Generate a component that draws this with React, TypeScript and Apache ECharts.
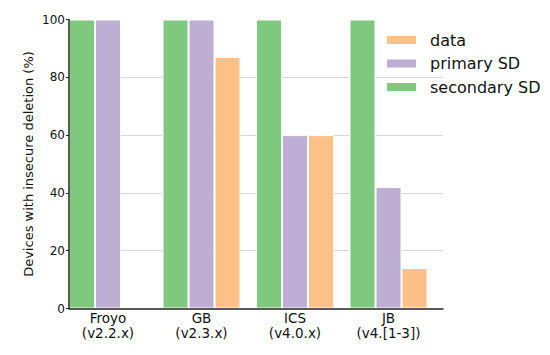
import React, { useEffect, useRef } from "react";
import * as echarts from "echarts";

const categories = ["Froyo\n(v2.2.x)", "GB\n(v2.3.x)", "ICS\n(v4.0.x)", "JB\n(v4.[1-3])"];
const secondarySD = [100, 100, 100, 100];
const primarySD = [100, 100, 60, 42];
const dataValues = [0, 87, 60, 14];
const yTicks = { min: 0, max: 100, interval: 20 };

const FONT = "DejaVu Sans";
const TEXT = "#111";

export default function App() {
  const ref = useRef<HTMLDivElement>(null);
  useEffect(() => {
    if (!ref.current) return;
    const chart = echarts.init(ref.current, null, { renderer: "svg" });
    const gridTop = 19.5;
    const gridHeight = 289;
    const gridWidth = 374;
    const barW = 26;
    const itemStyle = (color: string) => ({ color, borderColor: "#ffffff", borderWidth: 1 });
    chart.setOption({
      animation: false,
      textStyle: { fontFamily: FONT, color: TEXT },
      grid: [
        { left: 69, top: gridTop, width: gridWidth, height: gridHeight },
        { left: 69 - (gridWidth / 4 - barW * 3) / 2, top: gridTop, width: gridWidth, height: gridHeight },
      ],
      legend: {
        data: ["data", "primary SD", "secondary SD"],
        orient: "vertical",
        left: 385,
        top: 32,
        padding: 0,
        itemWidth: 31,
        itemHeight: 10,
        itemGap: 7.5,
        icon: "rect",
        textStyle: { fontFamily: FONT, fontSize: 16, color: TEXT, lineHeight: 16, padding: [0, 0, 0, 8] },
      },
      xAxis: [
        {
          type: "category",
          gridIndex: 0,
          data: categories,
          axisLine: { show: true, lineStyle: { color: "#222", width: 1.5 } },
          axisTick: { show: false },
          axisLabel: { show: false },
          splitLine: { show: false },
          z: 5,
        },
        {
          type: "category",
          gridIndex: 1,
          data: categories,
          axisLine: { show: false },
          axisTick: { show: false },
          axisLabel: { fontFamily: FONT, fontSize: 13.5, color: TEXT, lineHeight: 15, margin: 2 },
        },
      ],
      yAxis: [
        {
          type: "value",
          gridIndex: 0,
          position: "left",
          min: yTicks.min,
          max: yTicks.max,
          interval: yTicks.interval,
          axisLine: { show: false },
          axisTick: { show: false },
          axisLabel: { show: false },
          splitLine: { show: true, showMinLine: false, showMaxLine: false, lineStyle: { color: "#d6d6d6", width: 1.2 } },
          z: 0,
        },
        {
          type: "value",
          gridIndex: 1,
          position: "left",
          min: yTicks.min,
          max: yTicks.max,
          show: false,
          splitLine: { show: false },
        },
        {
          type: "value",
          gridIndex: 0,
          position: "left",
          offset: 0,
          min: yTicks.min,
          max: yTicks.max,
          interval: yTicks.interval,
          name: "Devices with insecure deletion (%)",
          nameLocation: "middle",
          nameGap: 34,
          nameMoveOverlap: false,
          nameTextStyle: { fontFamily: FONT, fontSize: 13, color: TEXT },
          axisLine: { show: true, lineStyle: { color: "#222", width: 1.5 } },
          axisTick: { show: true, inside: false, length: 3, lineStyle: { color: "#222" } },
          axisLabel: { fontFamily: FONT, fontSize: 12, color: TEXT, margin: 4 },
          splitLine: { show: false },
          z: 5,
        },
      ],
      series: [
        { name: "secondary SD", type: "bar", xAxisIndex: 1, yAxisIndex: 1, data: secondarySD, barWidth: barW, barGap: "0%", itemStyle: itemStyle("#7fc97f") },
        { name: "primary SD", type: "bar", xAxisIndex: 1, yAxisIndex: 1, data: primarySD, barWidth: barW, barGap: "0%", itemStyle: itemStyle("#beaed4") },
        { name: "data", type: "bar", xAxisIndex: 1, yAxisIndex: 1, data: dataValues, barWidth: barW, barGap: "0%", itemStyle: itemStyle("#fdc086") },
      ],
    });
    return () => chart.dispose();
  }, []);
  return <div ref={ref} style={{ width: 550, height: 355, position: "absolute", left: 0, top: 0 }} />;
}
